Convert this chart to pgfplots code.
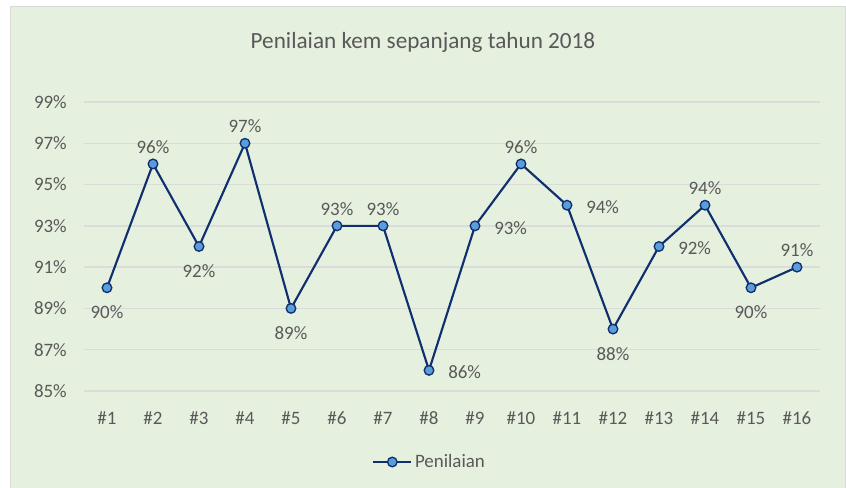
\documentclass[border=0pt]{standalone}
\usepackage{pgfplots}
\pgfplotsset{compat=1.18}
\usepackage{fontspec}
\setmainfont{Carlito}
\definecolor{bgc}{RGB}{230,240,223}
\definecolor{framec}{RGB}{217,217,217}
\definecolor{gridc}{RGB}{218,220,218}
\definecolor{txtc}{RGB}{89,89,89}
\definecolor{navy}{RGB}{16,47,110}
\definecolor{mfill}{RGB}{91,157,218}
\begin{document}
\begin{tikzpicture}
\path[use as bounding box] (0,0) rectangle (634.5pt,366pt);
\fill[white] (0,0) rectangle (634.5pt,366pt);
\filldraw[fill=bgc, draw=framec, line width=0.75pt] (7.5pt,-2pt) rectangle (633.75pt,360.75pt);
\node[text=txtc, font=\fontsize{17.4}{20}\selectfont] at (317.25pt,334.5pt) {Penilaian kem sepanjang tahun 2018};
\begin{axis}[
  at={(63pt,72.75pt)}, anchor=south west,
  scale only axis, width=552pt, height=216.75pt,
  xmin=0.5, xmax=16.5, ymin=85, ymax=99,
  axis line style={draw=none},
  major tick length=0pt,
  ytick={85,87,...,99},
  xtick={1,...,16},
  xticklabels={\#1,\#2,\#3,\#4,\#5,\#6,\#7,\#8,\#9,\#10,\#11,\#12,\#13,\#14,\#15,\#16},
  yticklabel={\pgfmathprintnumber{\tick}\%},
  /pgf/number format/assume math mode=true,
  ymajorgrids, grid style={draw=gridc, line width=1pt},
  tick label style={text=txtc, font=\fontsize{14.2}{17}\selectfont},
  yticklabel style={anchor=east, inner sep=0pt, xshift=-12.75pt},
  xticklabel style={anchor=north, inner sep=0pt, yshift=-15pt},
  clip=false,
  legend style={at={(axis description cs:0.47,-0.2457)}, anchor=center, draw=none, fill=none,
    text=txtc, font=\fontsize{14.2}{17}\selectfont, inner sep=0pt},
  legend image code/.code={\draw[mark repeat=2,mark phase=2] plot coordinates {(0cm,0cm)(0.5cm,0cm)(1cm,0cm)};},
  nodes near coords={\pgfmathprintnumber{\pgfplotspointmeta}\%},
  every node near coord/.append style={text=txtc, font=\fontsize{14.2}{17}\selectfont, inner sep=0pt},
]
\addplot[navy, line width=1.6pt, mark=*, mark size=3.6pt, mark options={fill=mfill, draw=navy, line width=1pt}, nodes near coords={}]
 coordinates {(1,90)(2,96)(3,92)(4,97)(5,89)(6,93)(7,93)(8,86)(9,93)(10,96)(11,94)(12,88)(13,92)(14,94)(15,90)(16,91)};
\addlegendentry{Penilaian}
% labels above
\addplot[draw=none, mark=none, forget plot, every node near coord/.append style={anchor=south, yshift=7.5pt}]
 coordinates {(2,96)(4,97)(6,93)(7,93)(10,96)(14,94)(16,91)};
% labels below
\addplot[draw=none, mark=none, forget plot, every node near coord/.append style={anchor=north, yshift=-13.5pt}]
 coordinates {(1,90)(3,92)(5,89)(12,88)(15,90)};
% labels right
\addplot[draw=none, mark=none, forget plot, every node near coord/.append style={anchor=west, xshift=14.25pt, yshift=-1.5pt}]
 coordinates {(8,86)(9,93)(11,94)(13,92)};
\end{axis}
\end{tikzpicture}
\end{document}
